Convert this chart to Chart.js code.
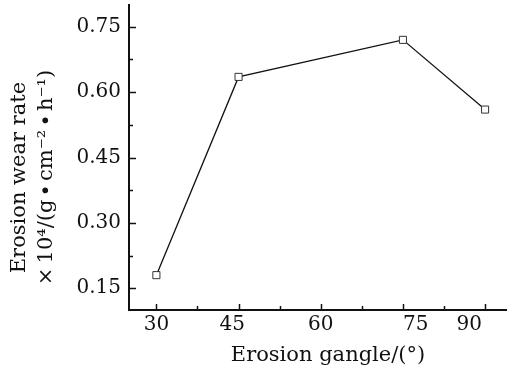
<!DOCTYPE html>
<html>
<head>
<meta charset="utf-8">
<script src="https://cdn.jsdelivr.net/npm/chart.js@4.4.1/dist/chart.umd.min.js"></script>
<style>
  html, body { margin: 0; padding: 0; background: #fff; }
  #wrap { width: 507px; height: 369px; position: relative; }
</style>
</head>
<body>
<div id="wrap"><canvas id="wearChart"></canvas></div>
<script>
// erosion wear rate vs. impact angle
const ANGLES = [30, 45, 75, 90];
const WEAR_RATE = [0.18, 0.635, 0.72, 0.56];

const NB = '\u00a0';
const TH = '\u2009';
const X_TICKS = [30, 37.5, 45, 52.5, 60, 67.5, 75, 82.5, 90];
const X_LABELS = ['30', '', '45' + NB + NB, '', '60', '', NB + NB + NB + NB + '75', '', '90' + NB.repeat(5)];
const Y_TICKS = [0.15, 0.225, 0.30, 0.375, 0.45, 0.525, 0.60, 0.675, 0.75];
const Y_LABELS = ['0.15', '', '0.30', '', '0.45', '', '0.60', '', '0.75'];

const X_TITLE = NB + NB + NB + 'Erosion gangle/(°)';
const Y_TITLE = [
  'Erosion wear rate' + NB.repeat(6),
  '×' + TH + '10⁴/(g' + TH + '∙' + TH + 'cm⁻²' + TH + '∙' + TH + 'h⁻¹)' + NB.repeat(6)
];

const INK = '#111';
const FONT = "'DejaVu Serif', serif";

// Origin-style ticks pointing into the plot
const innerTicks = {
  id: 'innerTicks',
  afterDraw(chart) {
    const { ctx, chartArea: a, scales: { x, y } } = chart;
    ctx.save();
    ctx.strokeStyle = INK;
    ctx.lineWidth = 1.5;
    ctx.beginPath();
    x.ticks.forEach((t, i) => {
      const px = Math.round(x.getPixelForValue(t.value)) + 0.5;
      const len = X_LABELS[i] ? 6 : 4;
      ctx.moveTo(px, a.bottom);
      ctx.lineTo(px, a.bottom - len);
    });
    y.ticks.forEach((t, i) => {
      const py = Math.round(y.getPixelForValue(t.value)) + 0.5;
      const len = Y_LABELS[i] ? 7 : 4;
      ctx.moveTo(a.left, py);
      ctx.lineTo(a.left + len, py);
    });
    ctx.stroke();
    ctx.restore();
  }
};

new Chart(document.getElementById('wearChart'), {
  type: 'line',
  data: {
    datasets: [{
      data: ANGLES.map((a, i) => ({ x: a, y: WEAR_RATE[i] })),
      borderColor: INK,
      borderWidth: 1.3,
      tension: 0,
      pointStyle: 'rect',
      pointRadius: 5,
      pointBackgroundColor: '#fff',
      pointBorderColor: '#333',
      pointBorderWidth: 1
    }]
  },
  options: {
    responsive: true,
    maintainAspectRatio: false,
    animation: false,
    layout: { autoPadding: false, padding: { top: 5, right: 0, bottom: 0, left: 0 } },
    plugins: { legend: { display: false }, tooltip: { enabled: false } },
    scales: {
      x: {
        type: 'linear',
        min: 25, max: 94,
        afterBuildTicks: s => { s.ticks = X_TICKS.map(v => ({ value: v })); },
        afterFit: s => { s.height = 59; s.paddingLeft = 0; s.paddingRight = 0; },
        grid: { display: false, drawTicks: false },
        border: { display: true, width: 2, color: INK },
        ticks: {
          autoSkip: false, maxRotation: 0, padding: 3, color: INK,
          font: { family: FONT, size: 20, lineHeight: 1.2 },
          callback: (v, i) => X_LABELS[i]
        },
        title: {
          display: true, text: X_TITLE, color: INK,
          font: { family: FONT, size: 21, lineHeight: 1.2 },
          padding: { top: 0, bottom: 1 }
        }
      },
      y: {
        min: 0.1, max: 0.8,
        afterBuildTicks: s => { s.ticks = Y_TICKS.map(v => ({ value: v })); },
        afterFit: s => { s.width = 129; s.paddingTop = 0; s.paddingBottom = 0; },
        grid: { display: false, drawTicks: false },
        border: { display: true, width: 2, color: INK },
        ticks: {
          autoSkip: false, padding: 8, color: INK,
          font: { family: FONT, size: 20, lineHeight: 1.2 },
          callback: (v, i) => Y_LABELS[i]
        },
        title: {
          display: true, text: Y_TITLE, color: INK,
          font: { family: FONT, size: 21, lineHeight: 1.3 },
          padding: { top: 6, bottom: 0 }
        }
      }
    }
  },
  plugins: [innerTicks]
});
</script>
</body>
</html>
